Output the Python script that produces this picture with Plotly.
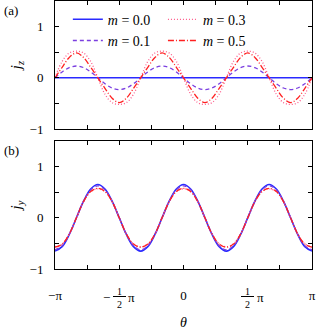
import plotly.graph_objects as go

# theta in degrees (x axis shown in units of pi)
theta_deg = [-180, -170, -160, -150, -140, -130, -120, -110, -100, -90, -80, -70,
             -60, -50, -40, -30, -20, -10, 0, 10, 20, 30, 40, 50,
             60, 70, 80, 90, 100, 110, 120, 130, 140, 150, 160, 170, 180]

m_labels = ["0.0", "0.1", "0.3", "0.5"]

jz_m00 = [0.0] * 37
jz_m01 = [0, 0.115, 0.199, 0.23, 0.199, 0.115, 0, -0.115, -0.199, -0.23, -0.199, -0.115,
          0, 0.115, 0.199, 0.23, 0.199, 0.115, 0, -0.115, -0.199, -0.23, -0.199, -0.115,
          0, 0.115, 0.199, 0.23, 0.199, 0.115, 0, -0.115, -0.199, -0.23, -0.199, -0.115, 0]
jz_m03 = [0, 0.32, 0.485, 0.52, 0.485, 0.32, 0, -0.32, -0.485, -0.52, -0.485, -0.32,
          0, 0.32, 0.485, 0.52, 0.485, 0.32, 0, -0.32, -0.485, -0.52, -0.485, -0.32,
          0, 0.32, 0.485, 0.52, 0.485, 0.32, 0, -0.32, -0.485, -0.52, -0.485, -0.32, 0]
jz_m05 = [0, 0.205, 0.398, 0.485, 0.398, 0.205, 0, -0.205, -0.398, -0.485, -0.398, -0.205,
          0, 0.205, 0.398, 0.485, 0.398, 0.205, 0, -0.205, -0.398, -0.485, -0.398, -0.205,
          0, 0.205, 0.398, 0.485, 0.398, 0.205, 0, -0.205, -0.398, -0.485, -0.398, -0.205, 0]

jy_m00 = [-0.65, -0.563, -0.325, 0, 0.325, 0.563, 0.65, 0.563, 0.325, 0, -0.325, -0.563,
          -0.65, -0.563, -0.325, 0, 0.325, 0.563, 0.65, 0.563, 0.325, 0, -0.325, -0.563,
          -0.65, -0.563, -0.325, 0, 0.325, 0.563, 0.65, 0.563, 0.325, 0, -0.325, -0.563, -0.65]
jy_m01 = [-0.625, -0.546, -0.32, 0, 0.32, 0.546, 0.625, 0.546, 0.32, 0, -0.32, -0.546,
          -0.625, -0.546, -0.32, 0, 0.32, 0.546, 0.625, 0.546, 0.32, 0, -0.32, -0.546,
          -0.625, -0.546, -0.32, 0, 0.32, 0.546, 0.625, 0.546, 0.32, 0, -0.32, -0.546, -0.625]
jy_m03 = [-0.565, -0.511, -0.32, 0, 0.32, 0.511, 0.565, 0.511, 0.32, 0, -0.32, -0.511,
          -0.565, -0.511, -0.32, 0, 0.32, 0.511, 0.565, 0.511, 0.32, 0, -0.32, -0.511,
          -0.565, -0.511, -0.32, 0, 0.32, 0.511, 0.565, 0.511, 0.32, 0, -0.32, -0.511, -0.565]
jy_m05 = [-0.575, -0.514, -0.316, 0, 0.316, 0.514, 0.575, 0.514, 0.316, 0, -0.316, -0.514,
          -0.575, -0.514, -0.316, 0, 0.316, 0.514, 0.575, 0.514, 0.316, 0, -0.316, -0.514,
          -0.575, -0.514, -0.316, 0, 0.316, 0.514, 0.575, 0.514, 0.316, 0, -0.316, -0.514, -0.575]

x_tickvals = [-1, 0, 1]
x_ticktext = ["\u2212\u03c0", "0", "\u03c0"]
x_minorvals = [-0.75, -0.5, -0.25, 0.25, 0.5, 0.75]
x_fracvals = [-0.5, 0.5]
x_fracsign = ["\u2212", ""]
y_tickvals = [-1, 0, 1]
y_ticktext = ["\u22121", "0", "1"]
y_minorvals = [-0.5, 0.5]

x = [d / 180 for d in theta_deg]

styles = [
    dict(color="#2a2aff", width=1.6, dash="solid"),
    dict(color="#7b3fe0", width=1.3, dash="4px,3px"),
    dict(color="#ff5a8a", width=1.3, dash="1px,2px"),
    dict(color="#ff2020", width=1.3, dash="6px,2px,1px,2px"),
]
legends = ["legend", "legend", "legend2", "legend2"]

FONT = "Liberation Serif, Times New Roman, serif"
fig = go.Figure()
for i, (lab, yz, yy) in enumerate(zip(m_labels, [jz_m00, jz_m01, jz_m03, jz_m05],
                                      [jy_m00, jy_m01, jy_m03, jy_m05])):
    fig.add_trace(go.Scatter(x=x, y=yz, mode="lines", line=dict(**styles[i], shape="spline"),
                             name=f"<i>m</i> = {lab}", legend=legends[i],
                             xaxis="x", yaxis="y"))
    fig.add_trace(go.Scatter(x=x, y=yy, mode="lines", line=dict(**styles[i], shape="spline"),
                             showlegend=False, xaxis="x2", yaxis="y2"))

axis_common = dict(showline=True, linecolor="black", linewidth=1, mirror="ticks",
                   ticks="inside", ticklen=4, tickcolor="black", showgrid=False,
                   zeroline=False, automargin=False,
                   tickfont=dict(family=FONT, size=13, color="black"))
xminor = dict(tickmode="array", tickvals=x_minorvals, ticks="inside", ticklen=4,
              tickcolor="black", showgrid=False)
yminor = dict(tickmode="array", tickvals=y_minorvals, ticks="inside", ticklen=4,
              tickcolor="black", showgrid=False)

fig.update_layout(
    width=318, height=332,
    margin=dict(l=55, r=6, t=1, b=63),
    plot_bgcolor="white", paper_bgcolor="white",
    font=dict(family=FONT, size=13, color="black"),
    xaxis=dict(domain=[0, 1], anchor="y", range=[-1, 1], tickvals=x_tickvals,
               showticklabels=False, minor=xminor, **axis_common),
    yaxis=dict(domain=[0.5224, 1], anchor="x", range=[-1, 1.5], tickvals=y_tickvals,
               ticktext=y_ticktext, ticklabelstandoff=8, minor=yminor,
               title=dict(text="<i>j<sub>z</sub></i>", standoff=4,
                          font=dict(family=FONT, size=15)),
               **axis_common),
    xaxis2=dict(domain=[0, 1], anchor="y2", range=[-1, 1], tickvals=x_tickvals,
                ticktext=x_ticktext, ticklabelstandoff=14, minor=xminor,
                title=dict(text="<i>\u03b8</i>", standoff=15,
                           font=dict(family=FONT, size=14)),
                **axis_common),
    yaxis2=dict(domain=[0, 0.4776], anchor="x2", range=[-1, 1.5], tickvals=y_tickvals,
                ticktext=y_ticktext, ticklabelstandoff=8, minor=yminor,
                title=dict(text="<i>j<sub>y</sub></i>", standoff=4,
                           font=dict(family=FONT, size=15)),
                **axis_common),
    legend=dict(x=0.05, y=0.99, xanchor="left", yanchor="top", bgcolor="rgba(0,0,0,0)",
                font=dict(family=FONT, size=14), tracegroupgap=0),
    legend2=dict(x=0.42, y=0.99, xanchor="left", yanchor="top", bgcolor="rgba(0,0,0,0)",
                 font=dict(family=FONT, size=14), tracegroupgap=0),
)

# panel labels
fig.add_annotation(text="(a)", xref="paper", yref="paper", x=-0.17, y=1.0,
                   xanchor="center", yanchor="top", showarrow=False,
                   font=dict(family=FONT, size=13))
fig.add_annotation(text="(b)", xref="paper", yref="paper", x=-0.17, y=0.4776,
                   xanchor="center", yanchor="top", showarrow=False,
                   font=dict(family=FONT, size=13))

# fractional tick labels  -1/2 pi  and  1/2 pi
for xv, sign in zip(x_fracvals, x_fracsign):
    fig.add_annotation(text="<u>\u2009\u20091\u2009\u2009</u><br>2", xref="x2", yref="paper",
                       x=xv, y=-0.107, xanchor="center", yanchor="middle",
                       showarrow=False, font=dict(family=FONT, size=10))
    fig.add_annotation(text="\u03c0", xref="x2", yref="paper", x=xv, y=-0.105,
                       xanchor="left", yanchor="middle", xshift=7, showarrow=False,
                       font=dict(family=FONT, size=13))
    if sign:
        fig.add_annotation(text=sign, xref="x2", yref="paper", x=xv, y=-0.105,
                           xanchor="right", yanchor="middle", xshift=-7, showarrow=False,
                           font=dict(family=FONT, size=13))

fig.write_html("out.html", config={"displayModeBar": False},
               post_script="document.body.style.margin='0';document.body.style.padding='0';")
